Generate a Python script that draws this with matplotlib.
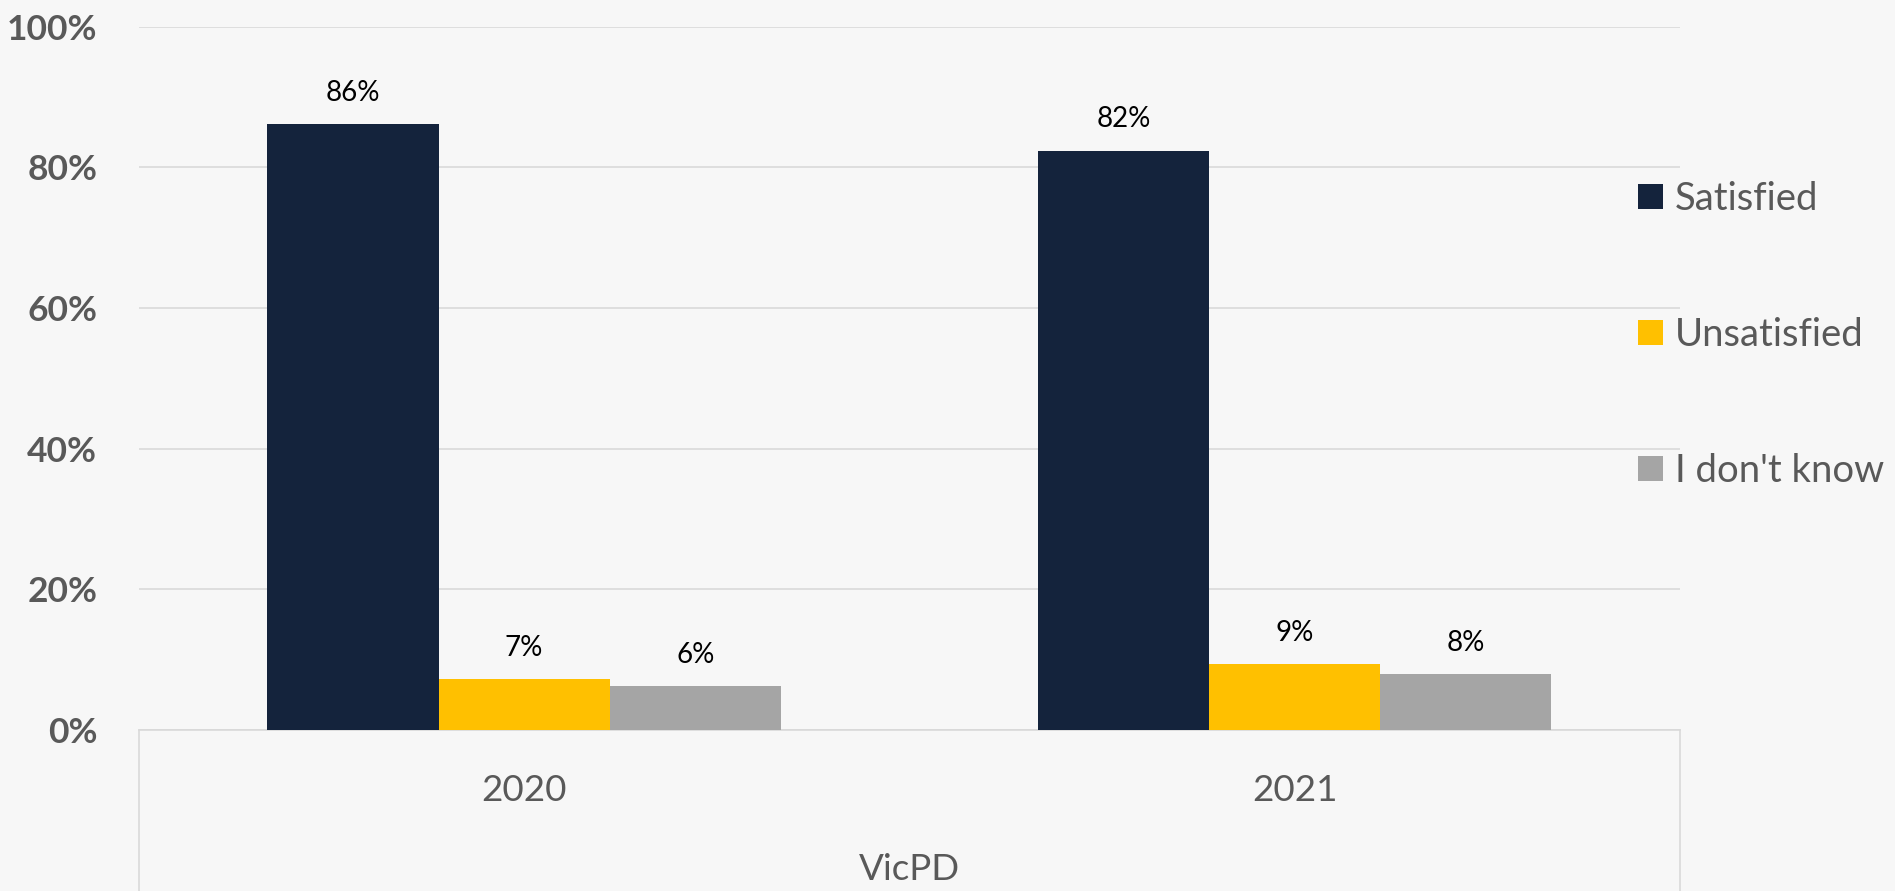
import numpy as np
import matplotlib.pyplot as plt
from matplotlib.patches import Patch

years = ['2020', '2021']
group_label = 'VicPD'
series_names = ['Satisfied', 'Unsatisfied', "I don't know"]
satisfied = [86.2, 82.4]
unsatisfied = [7.3, 9.4]
dont_know = [6.3, 7.9]
bar_labels = [['86%', '82%'], ['7%', '9%'], ['6%', '8%']]
y_ticks = [0, 20, 40, 60, 80, 100]

colors = ['#14233C', '#FFC000', '#A5A5A5']
bg = '#F7F7F7'
grid_c = '#D9D9D9'
text_c = '#595959'

plt.rcParams['font.family'] = ['Lato', 'DejaVu Sans']

fig = plt.figure(figsize=(18.95, 8.91), dpi=100, facecolor=bg)
ax = fig.add_axes([0.0733, 0.1807, 0.8132, 0.7893])
ax.set_facecolor(bg)

x = np.arange(len(years))
w = 0.2222
valores = [satisfied, unsatisfied, dont_know]
for i, vals in enumerate(valores):
    pos = x + (i - 1) * w
    bars = ax.bar(pos, vals, width=w, color=colors[i], zorder=3)
    for b, lab in zip(bars, bar_labels[i]):
        ax.annotate(lab, (b.get_x() + b.get_width() / 2, b.get_height()),
                    xytext=(0, 13), textcoords='offset points',
                    ha='center', va='bottom', fontsize=20, color='black')

ax.set_xlim(-0.5, 1.5)
ax.set_ylim(0, 100)
ax.set_yticks(y_ticks)
ax.set_yticklabels([f'{t}%' for t in y_ticks], fontsize=25.5, fontweight='bold', color=text_c)
ax.yaxis.grid(True, color=grid_c, linewidth=1.2, zorder=0)
ax.tick_params(axis='y', length=0, pad=30)
ax.tick_params(axis='x', length=0, pad=32)
ax.set_xticks(x)
ax.set_xticklabels(years, fontsize=26.5, color=text_c)
ax.set_xlabel(group_label, fontsize=26.5, color=text_c, labelpad=33)

for s in ['top', 'right', 'left']:
    ax.spines[s].set_visible(False)
ax.spines['bottom'].set_color(grid_c)
ax.spines['bottom'].set_linewidth(1.2)

# caja del eje de categorias
for xx in [0, 1]:
    ax.plot([xx, xx], [0, -0.3], transform=ax.transAxes, color=grid_c,
            linewidth=1.2, clip_on=False)

handles = [Patch(facecolor=c, edgecolor='none') for c in colors]
ax.legend(handles, series_names, loc='upper left', bbox_to_anchor=(0.8644, 0.797),
          bbox_transform=fig.transFigure, frameon=False, fontsize=27.5,
          handlelength=0.66, handleheight=0.66, handletextpad=0.3,
          labelspacing=2.62, borderpad=0, borderaxespad=0, labelcolor=text_c)

plt.savefig('out.png', dpi=100, facecolor=bg)
